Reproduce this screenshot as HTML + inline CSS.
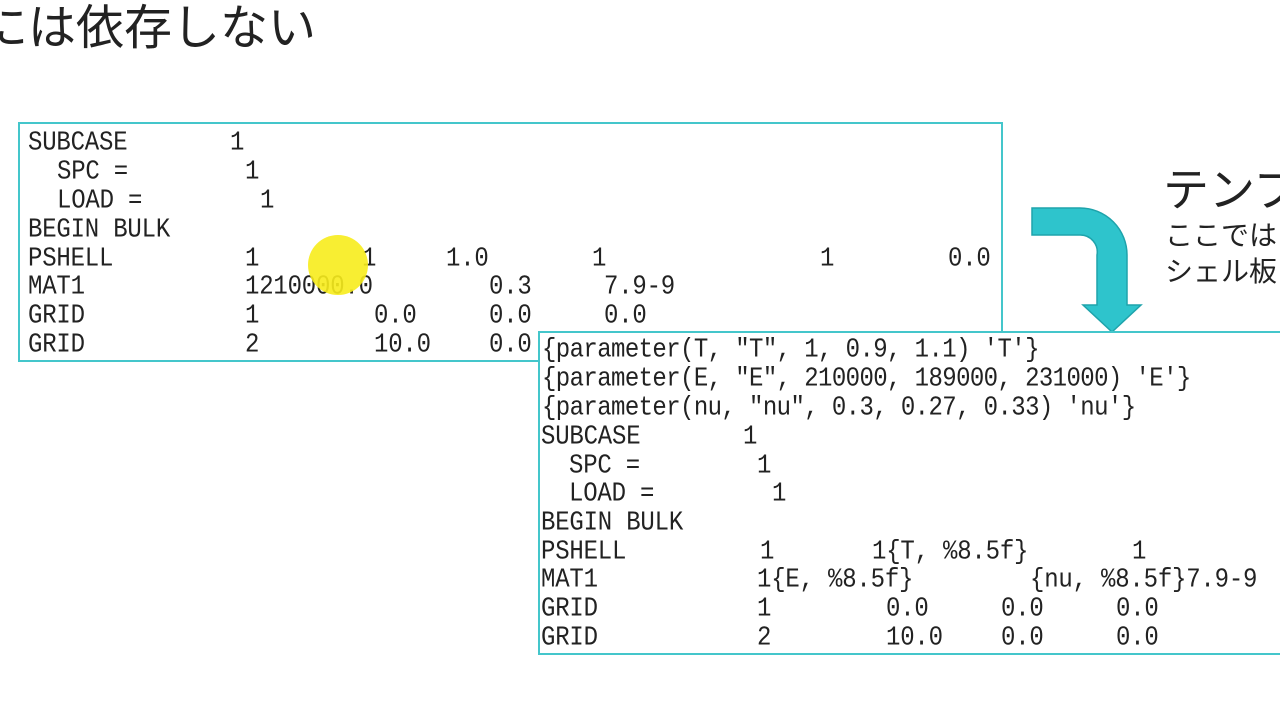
<!DOCTYPE html>
<html><head><meta charset="utf-8"><style>
body{margin:0;width:1280px;height:720px;overflow:hidden;background:#fff;position:relative;font-family:"Liberation Sans","Noto Sans CJK JP",sans-serif}
.box{position:absolute;border:2px solid #44c6cb;background:#fff;box-sizing:border-box}
.t{position:absolute;font-family:"Liberation Mono","Noto Sans CJK JP",monospace;font-size:24px;line-height:28px;color:#222;white-space:pre;transform:scaleY(1.1);letter-spacing:-0.2px}
.j{position:absolute;color:#222;white-space:nowrap}
</style></head><body>
<div class="j" style="left:-20px;top:-12px;font-size:48px">には依存しない</div>
<div class="j" style="left:1163px;top:154px;font-size:46px">テンプ</div>
<div class="j" style="left:1165px;top:214px;font-size:28px">ここでは</div>
<div class="j" style="left:1165px;top:250px;font-size:28px">シェル板</div>

<div class="box" style="left:18px;top:122px;width:985px;height:240px"></div>
<div id="b1"></div>
<svg style="position:absolute;left:0;top:0" width="1280" height="720">
<circle cx="338" cy="265" r="30" fill="#f7ec1c" opacity="0.9"/>
<path d="M1032 208 H1080 A47 47 0 0 1 1127 255 V305 H1141 L1112 332 L1083 305 H1097 V255 A17 17 0 0 0 1080 235 H1032 Z" fill="#2ec4cc" stroke="#1ea3ab" stroke-width="1.5"/>
</svg>
<div class="box" style="left:538px;top:331px;width:760px;height:324px"></div>
<div id="lines"></div>
<script>
const b1=[
[143,[[28,"SUBCASE"],[230,"1"]]],
[172,[[57,"SPC ="],[245,"1"]]],
[201,[[57,"LOAD ="],[260,"1"]]],
[230,[[28,"BEGIN BULK"]]],
[259,[[28,"PSHELL"],[245,"1"],[362,"1"],[446,"1.0"],[592,"1"],[820,"1"],[948,"0.0"]]],
[287,[[28,"MAT1"],[245,"1210000.0"],[489,"0.3"],[604,"7.9-9"]]],
[316,[[28,"GRID"],[245,"1"],[374,"0.0"],[489,"0.0"],[604,"0.0"]]],
[345,[[28,"GRID"],[245,"2"],[374,"10.0"],[489,"0.0"]]],
];
const b2=[
[350,[[542,"{parameter(T, ″T″, 1, 0.9, 1.1) 'T'}"]]],
[379,[[542,"{parameter(E, ″E″, 210000, 189000, 231000) 'E'}"]]],
[408,[[542,"{parameter(nu, ″nu″, 0.3, 0.27, 0.33) 'nu'}"]]],
[437,[[541,"SUBCASE"],[743,"1"]]],
[466,[[569,"SPC ="],[757,"1"]]],
[494,[[569,"LOAD ="],[772,"1"]]],
[523,[[541,"BEGIN BULK"]]],
[552,[[541,"PSHELL"],[760,"1"],[872,"1{T, %8.5f}"],[1132,"1"]]],
[580,[[541,"MAT1"],[757,"1{E, %8.5f}"],[1030,"{nu, %8.5f}7.9-9"]]],
[609,[[541,"GRID"],[757,"1"],[886,"0.0"],[1001,"0.0"],[1116,"0.0"]]],
[638,[[541,"GRID"],[757,"2"],[886,"10.0"],[1001,"0.0"],[1116,"0.0"]]],
];
function put(arr,id){let h='';for(const [y,toks] of arr)for(const [x,s] of toks)h+=`<div class="t" style="left:${x}px;top:${y-13}px">${s.replace(/</g,'&lt;')}</div>`;document.getElementById(id).innerHTML=h;}
put(b1,'b1');put(b2,'lines');
</script>
<style>#lines .t:nth-child(-n+3){letter-spacing:-0.6px}</style>
</body></html>
